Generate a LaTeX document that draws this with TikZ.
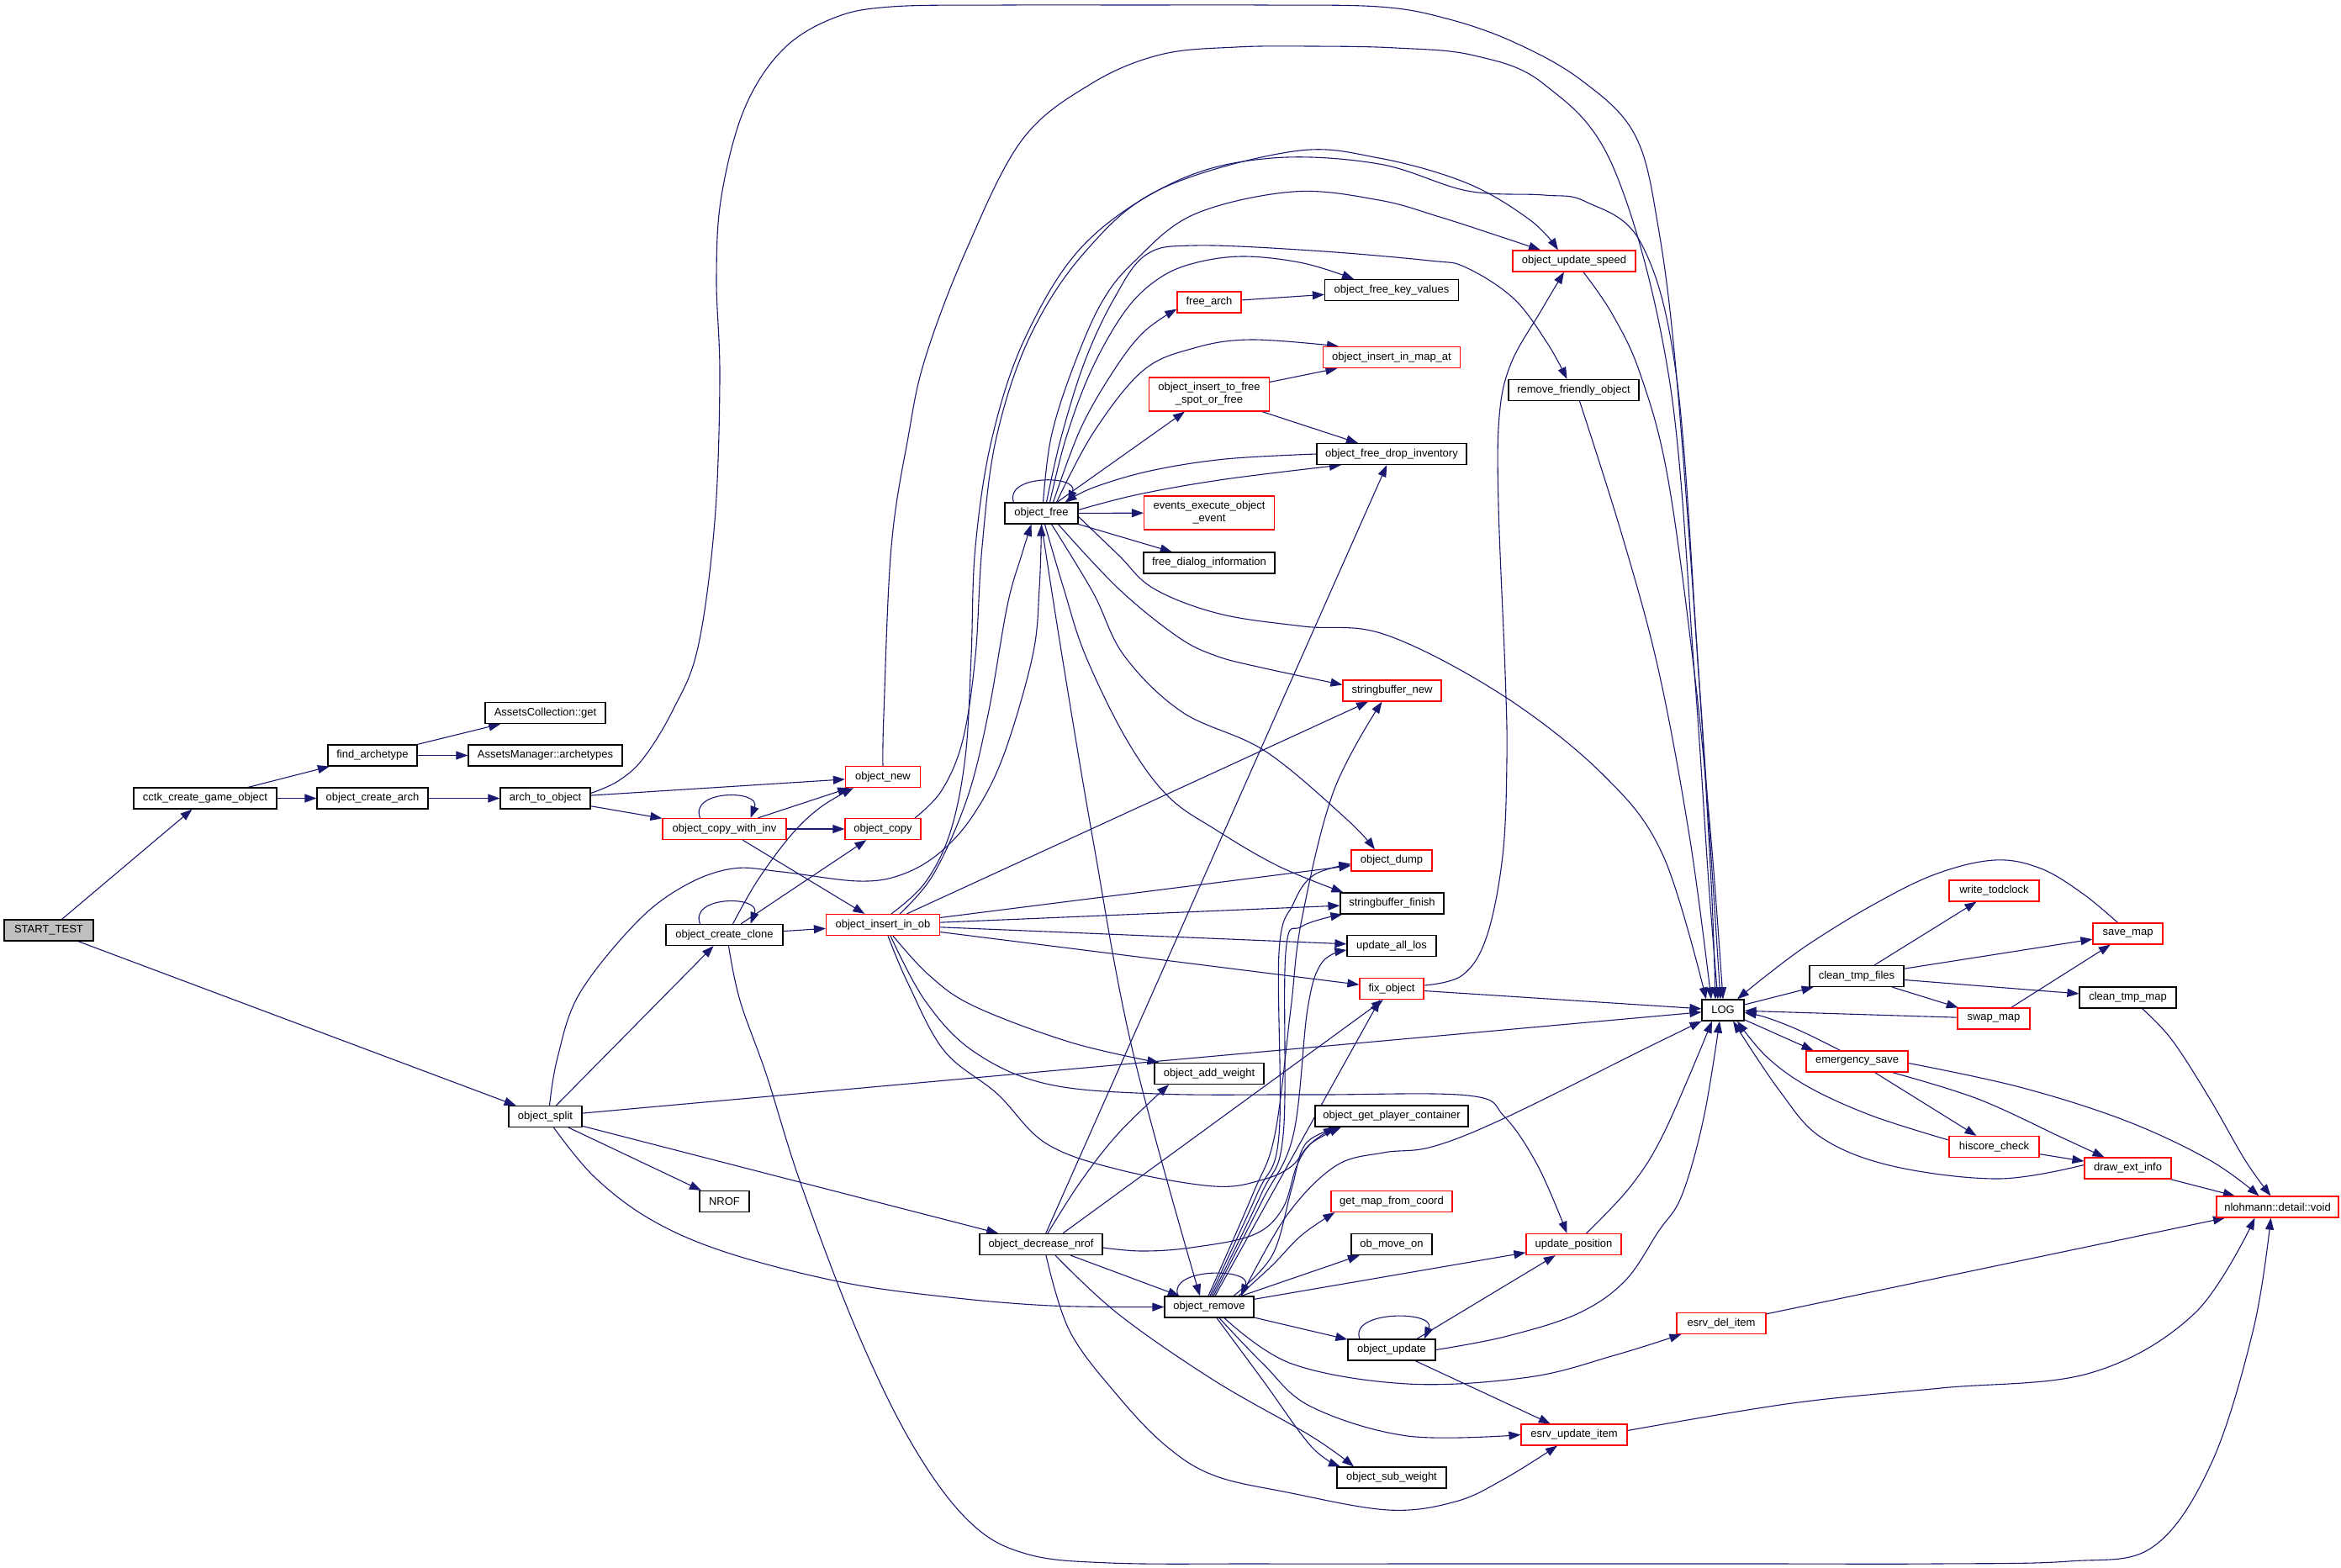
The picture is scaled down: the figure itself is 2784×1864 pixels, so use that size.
\documentclass[tikz,border=0pt]{standalone}
\usepackage{fontspec}
\setmainfont{Liberation Sans}
\usetikzlibrary{arrows.meta}
\definecolor{edgec}{RGB}{25,25,112}
\definecolor{nodered}{RGB}{255,0,0}
\definecolor{startfill}{RGB}{191,191,191}
\pgfdeclarelayer{back}
\pgfdeclarelayer{edges}
\pgfsetlayers{back,edges,main}
\begin{document}
\begin{tikzpicture}[x=1pt,y=-1pt,
  font=\fontsize{13}{15}\selectfont,
  box/.style={draw=black, line width=1.2pt, rectangle, inner sep=0pt, minimum height=25pt, align=center, fill=white},
  rbox/.style={box, draw=nodered},
  e/.style={draw=edgec, line width=1.1pt, -{Triangle[length=14pt,width=10pt]}},
  sm/.style={smooth, tension=0.6}]
\useasboundingbox (0,0) rectangle (2784,1864);
\begin{pgfonlayer}{back}
\fill[white] (0,0) rectangle (2784,1864);
\end{pgfonlayer}
% ---------------- nodes ----------------
\node[box, fill=startfill, minimum width=106pt] (START) at (58,1106.5) {START\_TEST};
\node[box, minimum width=170pt] (cctk) at (244,949.5) {cctk\_create\_game\_object};
\node[box, minimum width=106pt] (findarch) at (443,898.5) {find\_archetype};
\node[box, minimum width=143pt] (assetsget) at (648.5,848) {AssetsCollection::get};
\node[box, minimum width=183pt] (assetsarch) at (648.5,898.5) {AssetsManager::archetypes};
\node[box, minimum width=132pt] (createarch) at (443,949.5) {object\_create\_arch};
\node[box, minimum width=107pt] (arch2obj) at (648.5,949.5) {arch\_to\_object};
\node[rbox, minimum width=89pt] (objnew) at (1050,924) {object\_new};
\node[rbox, minimum width=147pt] (copywinv) at (861.5,986) {object\_copy\_with\_inv};
\node[rbox, minimum width=90pt] (objcopy) at (1050,986) {object\_copy};
\node[box, minimum width=139pt] (clone) at (861.5,1112) {object\_create\_clone};
\node[rbox, minimum width=135pt] (insertob) at (1050,1100) {object\_insert\_in\_ob};
\node[box, minimum width=87pt] (split) at (648.5,1328) {object\_split};
\node[box, minimum width=59pt] (NROF) at (861.5,1429) {NROF};
\node[box, minimum width=146pt] (decnrof) at (1238,1480) {object\_decrease\_nrof};
\node[box, minimum width=106pt] (remove) at (1438,1554.5) {object\_remove};
\node[box, minimum width=87pt] (objfree) at (1238.5,610.5) {object\_free};
\node[rbox, minimum width=76pt] (freearch) at (1438,359.5) {free\_arch};
\node[box, minimum width=159pt] (freekv) at (1655,345) {object\_free\_key\_values};
\node[rbox, minimum width=163pt] (inmapat) at (1655,425) {object\_insert\_in\_map\_at};
\node[rbox, minimum width=143pt, minimum height=40pt] (tofree) at (1438,469) {object\_insert\_to\_free\\\_spot\_or\_free};
\node[box, minimum width=178pt] (dropinv) at (1655,540) {object\_free\_drop\_inventory};
\node[rbox, minimum width=155pt, minimum height=40pt] (events) at (1438,610) {events\_execute\_object\\\_event};
\node[box, minimum width=156pt] (freedialog) at (1438,669.5) {free\_dialog\_information};
\node[rbox, minimum width=117pt] (sbnew) at (1655.5,821.5) {stringbuffer\_new};
\node[rbox, minimum width=96pt] (objdump) at (1655,1023.5) {object\_dump};
\node[box, minimum width=123pt] (sbfinish) at (1655.5,1074.5) {stringbuffer\_finish};
\node[box, minimum width=106pt] (updlos) at (1655,1125) {update\_all\_los};
\node[rbox, minimum width=76pt] (fixobj) at (1655,1176) {fix\_object};
\node[box, minimum width=130pt] (addweight) at (1438,1277) {object\_add\_weight};
\node[box, minimum width=182pt] (playercont) at (1655,1327.5) {object\_get\_player\_container};
\node[rbox, minimum width=144pt] (getmap) at (1655,1429) {get\_map\_from\_coord};
\node[box, minimum width=96pt] (movon) at (1655,1480) {ob\_move\_on};
\node[box, minimum width=104pt] (objupdate) at (1655,1605.5) {object\_update};
\node[box, minimum width=130pt] (subweight) at (1655,1757.5) {object\_sub\_weight};
\node[rbox, minimum width=126pt] (esrvupd) at (1872,1706.5) {esrv\_update\_item};
\node[rbox, minimum width=106pt] (esrvdel) at (2047,1574) {esrv\_del\_item};
\node[rbox, minimum width=113pt] (updpos) at (1871.5,1480) {update\_position};
\node[rbox, minimum width=146pt] (updspeed) at (1872,310.5) {object\_update\_speed};
\node[box, minimum width=155pt] (removefriendly) at (1871.5,464) {remove\_friendly\_object};
\node[box, minimum width=50pt] (LOG) at (2049,1201.5) {LOG};
\node[box, minimum width=112pt] (cleanfiles) at (2208,1161) {clean\_tmp\_files};
\node[rbox, minimum width=107pt] (todclock) at (2371.5,1059.5) {write\_todclock};
\node[rbox, minimum width=83pt] (savemap) at (2530.5,1110.5) {save\_map};
\node[rbox, minimum width=86pt] (swapmap) at (2371,1211.5) {swap\_map};
\node[box, minimum width=115pt] (cleanmap) at (2530.5,1186.5) {clean\_tmp\_map};
\node[rbox, minimum width=121pt] (emergency) at (2208.5,1262.5) {emergency\_save};
\node[rbox, minimum width=107pt] (hiscore) at (2371.5,1364) {hiscore\_check};
\node[rbox, minimum width=103pt] (drawext) at (2530.5,1389.5) {draw\_ext\_info};
\node[rbox, minimum width=145pt] (nlohmann) at (2708.5,1435.5) {nlohmann::detail::void};
% ---------------- edges ----------------
\begin{pgfonlayer}{edges}
% straight
\draw[e] (START) -- (cctk);
\draw[e] (START) -- (split);
\draw[e] (cctk) -- (findarch);
\draw[e] (cctk) -- (createarch);
\draw[e] (findarch) -- (assetsget);
\draw[e] (findarch) -- (assetsarch);
\draw[e] (createarch) -- (arch2obj);
\draw[e] (arch2obj) -- (objnew);
\draw[e] (arch2obj) -- (copywinv);
\draw[e] (copywinv) -- (objnew);
\draw[e] (copywinv) -- (objcopy);
\draw[e] (copywinv) -- (insertob);
\draw[e] (clone) -- (objcopy);
\draw[e] (clone) -- (insertob);
\draw[e] (split) -- (clone);
\draw[e] (split) -- (LOG);
\draw[e] (split) -- (NROF);
\draw[e] (split) -- (decnrof);
\draw[e] (insertob) -- (sbnew);
\draw[e] (insertob) -- (objdump);
\draw[e] (insertob) -- (sbfinish);
\draw[e] (insertob) -- (updlos);
\draw[e] (insertob) -- (fixobj);
\draw[e] (objfree) -- (tofree);
\draw[e] (objfree) -- (events);
\draw[e] (objfree) -- (freedialog);
\draw[e] (freearch) -- (freekv);
\draw[e] (tofree) -- (inmapat);
\draw[e] (tofree) -- (dropinv);
\draw[e] (decnrof) -- (remove);
\draw[e] (decnrof) -- (dropinv);
\draw[e] ([xshift=26pt]decnrof.north) -- ([xshift=-10pt]fixobj.south);
\draw[e] (remove) -- (movon);
\draw[e] (remove) -- (updpos);
\draw[e] (remove) -- (objupdate);
\draw[e] ([xshift=7pt]remove.north) -- ([xshift=-14pt]fixobj.south);
\draw[e] ([xshift=30pt]objupdate.north) -- (updpos);
\draw[e] (objupdate) -- (esrvupd);
\draw[e] (fixobj) -- (LOG);
\draw[e] (esrvdel) -- (nlohmann);
\draw[e] (LOG) -- (cleanfiles);
\draw[e] (LOG) -- ([xshift=-52pt]emergency.north);
\draw[e] (swapmap) -- (LOG);
\draw[e] (cleanfiles) -- (todclock);
\draw[e] (cleanfiles) -- (savemap);
\draw[e] (cleanfiles) -- (swapmap);
\draw[e] (cleanfiles) -- (cleanmap);
\draw[e] (swapmap) -- (savemap);
\draw[e] (emergency) -- (hiscore);
\draw[e] (hiscore) -- (drawext);
\draw[e] (drawext) -- (nlohmann);
% self loops
\draw[e] ([xshift=-29pt]copywinv.north) .. controls ([xshift=-42pt,yshift=34pt]copywinv.north) and ([xshift=44pt,yshift=34pt]copywinv.north) .. ([xshift=31pt]copywinv.north);
\draw[e] ([xshift=-29pt]clone.north) .. controls ([xshift=-42pt,yshift=34pt]clone.north) and ([xshift=44pt,yshift=34pt]clone.north) .. ([xshift=31pt]clone.north);
\draw[e] ([xshift=-33pt]objfree.north) .. controls ([xshift=-45pt,yshift=33pt]objfree.north) and ([xshift=45pt,yshift=33pt]objfree.north) .. ([xshift=32pt]objfree.north);
\draw[e] ([xshift=-37pt]remove.north) .. controls ([xshift=-50pt,yshift=34pt]remove.north) and ([xshift=52pt,yshift=34pt]remove.north) .. ([xshift=38pt]remove.north);
\draw[e] ([xshift=-38pt]objupdate.north) .. controls ([xshift=-51pt,yshift=34pt]objupdate.north) and ([xshift=53pt,yshift=34pt]objupdate.north) .. ([xshift=39pt]objupdate.north);
% curved
\draw[e] plot[sm] coordinates {([yshift=6pt]arch2obj.east) (735,929) (765,902) (800,845) (830,770) (850,620) (856,450) (852,330) (858,233) (885,130) (930,60) (990,22) (1060,8) (1200,6) (1350,6) (1500,6) (1640,8) (1720,22) (1800,50) (1880,95) (1944,160) (1972,270) (1994,450) (2020,800) (2035,1050) ([xshift=-9pt]LOG.north)};
\draw[e] plot[sm] coordinates {(objnew.north) (1051,850) (1060,650) (1080,520) (1100,427) (1148,300) (1215,167) (1297,100) (1380,65) (1470,56) (1560,55) (1660,57) (1753,66) (1836,100) (1919,200) (1985,450) (2015,800) (2032,1050) ([xshift=-6pt]LOG.north)};
\draw[e] plot[sm] coordinates {([xshift=10pt]insertob.north) (1100,1050) (1130,990) (1148,900) (1155,780) (1160,650) (1180,520) (1220,400) (1290,290) (1400,215) (1513,188) (1640,195) (1745,227) (1836,232) (1886,240) (1952,290) (1994,450) (2020,800) (2037,1050) ([xshift=-3pt]LOG.north)};
\draw[e] plot[sm] coordinates {([xshift=38pt]objcopy.north) (1120,940) (1145,880) (1160,780) (1168,650) (1185,520) (1225,400) (1290,300) (1380,225) (1538,180) (1640,188) (1745,218) (1820,262) ([xshift=-19pt]updspeed.north)};
\draw[e] plot[sm] coordinates {([xshift=20pt]insertob.north) (1110,1040) (1150,950) (1175,850) (1198,720) (1215,660) ([xshift=-12pt]objfree.south)};
\draw[e] plot[sm] coordinates {([xshift=5pt]split.north) (663,1258) (689,1182) (757,1097) (815,1053) (872,1033) (930,1037) (1021,1048) (1073,1040) (1119,1013) (1159,967) (1194,897) (1228,780) (1236,700) (objfree.south)};
\draw[e] plot[sm] coordinates {([xshift=10pt]split.south) (706,1399) (773,1450) (862,1489) (996,1524) (1120,1542) (1250,1553) (remove.west)};
\draw[e] plot[sm] coordinates {([xshift=10pt]clone.north) (901,1047) (941,993) (976,960) ([xshift=-35pt]objnew.south)};
\draw[e] plot[sm] coordinates {([xshift=5pt]clone.south) (880,1190) (912,1280) (952,1407) (1019,1583) (1086,1720) (1153,1810) (1220,1848) (1320,1859) (1500,1860) (1700,1860) (1900,1860) (2100,1860) (2300,1860) (2460,1857) (2560,1840) (2630,1740) (2680,1580) ([xshift=-8pt]nlohmann.south)};
\draw[e] plot[sm] coordinates {([xshift=12pt]insertob.south) (1105,1160) (1159,1197) (1274,1240) ([xshift=6pt]addweight.north west)};
\draw[e] plot[sm] coordinates {([xshift=6pt]insertob.south) (1080,1170) (1123,1250) (1186,1301) (1244,1360) (1330,1391) (1444,1411) (1502,1403) (1536,1387) (1559,1360) ([xshift=-60pt]playercont.south)};
\draw[e] plot[sm] coordinates {([xshift=9pt]insertob.south) (1100,1190) (1157,1250) (1244,1289) (1376,1301) (1560,1302) (1746,1303) (1789,1328) (1829,1387) ([xshift=-8pt]updpos.north)};
\draw[e] plot[sm] coordinates {([xshift=2pt]objfree.north) (1250,520) (1275,440) (1310,360) (1350,310) (1420,255) (1538,228) (1640,238) (1712,258) (1780,280) ([xshift=-40pt]updspeed.north)};
\draw[e] plot[sm] coordinates {([xshift=6pt]objfree.north) (1262,520) (1290,430) (1325,355) (1363,303) (1421,292) (1560,298) (1700,310) (1743,318) (1800,355) (1840,408) ([xshift=-8pt]removefriendly.north)};
\draw[e] plot[sm] coordinates {([xshift=10pt]objfree.north) (1268,520) (1298,440) (1338,370) (1377,332) (1420,313) (1479,305) (1550,313) ([xshift=-45pt]freekv.north)};
\draw[e] plot[sm] coordinates {([xshift=14pt]objfree.north) (1285,510) (1325,440) (1360,395) ([yshift=5pt]freearch.south west)};
\draw[e] plot[sm] coordinates {([xshift=18pt]objfree.north) (1300,515) (1359,441) (1420,414) (1488,404) ([xshift=-63pt]inmapat.north)};
\draw[e] plot[sm] coordinates {([yshift=4pt]objfree.east) (1354,588) (1457,570) ([xshift=-60pt]dropinv.south)};
\draw[e] plot[sm] coordinates {(dropinv.west) (1457,546) (1368,560) (1300,580) ([xshift=28pt]objfree.north)};
\draw[e] plot[sm] coordinates {([xshift=20pt]objfree.south) (1330,700) (1400,757) (1446,780) (1500,794) ([yshift=7pt]sbnew.west)};
\draw[e] plot[sm] coordinates {([xshift=12pt]objfree.south) (1300,705) (1337,780) (1406,847) (1504,893) (1600,973) ([xshift=-20pt]objdump.north)};
\draw[e] plot[sm] coordinates {([xshift=4pt]objfree.south) (1265,700) (1291,780) (1340,880) (1389,947) (1446,987) (1520,1030) ([xshift=4pt]sbfinish.north west)};
\draw[e] plot[sm] coordinates {([yshift=-4pt]objfree.east) (1330,660) (1372,700) (1450,730) (1550,745) (1648,755) (1787,827) (1907,922) (1978,1018) ([xshift=-20pt]LOG.north)};
\draw[e] plot[sm] coordinates {(objfree.south) (1263,780) (1300,1000) (1347,1250) ([xshift=-11pt]remove.north)};
\draw[e] plot[sm] coordinates {([yshift=4pt]fixobj.east) (1739,1160) (1768,1114) (1787,1018) (1792,903) (1790,800) (1782,601) (1783,495) (1797,432) (1833,369) ([xshift=-12pt]updspeed.south)};
\draw[e] plot[sm] coordinates {([xshift=11pt]updspeed.south) (1917,373) (1950,443) (1983,566) (2015,800) (2035,1000) (LOG.north)};
\draw[e] plot[sm] coordinates {([xshift=7pt]removefriendly.south) (1930,640) (1973,800) (2010,1000) ([xshift=-14pt]LOG.north)};
\draw[e] plot[sm] coordinates {([xshift=17pt]decnrof.south) (1330,1563) (1444,1642) (1559,1708) ([xshift=-45pt]subweight.north)};
\draw[e] plot[sm] coordinates {([xshift=6pt]decnrof.south) (1272,1583) (1330,1661) (1387,1720) (1444,1755) (1531,1775) (1651,1796) (1731,1786) (1789,1759) ([xshift=-20pt]esrvupd.south)};
\draw[e] plot[sm] coordinates {([yshift=-4pt]decnrof.east) (1358,1488) (1416,1484) (1490,1469) (1525,1438) (1542,1387) (1559,1360) ([xshift=-67pt]playercont.south)};
\draw[e] plot[sm] coordinates {([xshift=8pt]decnrof.north) (1284,1407) (1330,1348) ([xshift=-48pt]addweight.south)};
\draw[e] plot[sm] coordinates {([xshift=12pt]remove.south) (1502,1622) (1559,1673) (1674,1708) (esrvupd.west)};
\draw[e] plot[sm] coordinates {([xshift=18pt]remove.south) (1536,1622) (1674,1646) (1818,1638) (1920,1612) ([xshift=6pt]esrvdel.south west)};
\draw[e] plot[sm] coordinates {([xshift=9pt]remove.south) (1502,1642) (1559,1720) ([xshift=-61pt]subweight.north)};
\draw[e] plot[sm] coordinates {([xshift=35pt]remove.north) (1513,1505) (1548,1469) ([xshift=5pt]getmap.south west)};
\draw[e] plot[sm] coordinates {([xshift=29pt]remove.north) (1513,1493) (1536,1414) (1553,1360) ([xshift=-61pt]playercont.south)};
\draw[e] plot[sm] coordinates {([xshift=38pt]remove.north) (1530,1446) (1588,1387) (1645,1371) (1703,1364) (1789,1330) (1961,1245) (LOG.south west)};
\draw[e] plot[sm] coordinates {([xshift=5pt]remove.north) (1500,1430) (1538,1350) (1555,1200) (1572,1145) ([yshift=-5pt]updlos.west)};
\draw[e] plot[sm] coordinates {([xshift=3pt]remove.north) (1500,1420) (1526,1350) (1529,1133) (1548,1102) ([xshift=3pt]sbfinish.south west)};
\draw[e] plot[sm] coordinates {([xshift=1pt]remove.north) (1495,1420) (1521,1350) (1521,1133) (1538,1075) (1562,1041) ([yshift=-4pt]objdump.west)};
\draw[e] plot[sm] coordinates {([xshift=-1pt]remove.north) (1490,1420) (1516,1350) (1535,1200) (1548,1094) (1586,941) ([xshift=-12pt]sbnew.south)};
\draw[e] plot[sm] coordinates {(objupdate.east) (1789,1590) (1875,1563) (1932,1524) (1972,1465) (2000,1422) (2026,1330) ([xshift=-4pt]LOG.south)};
\draw[e] plot[sm] coordinates {([xshift=15pt]updpos.north) (1940,1410) (1980,1345) ([xshift=-13pt]LOG.south)};
\draw[e] plot[sm] coordinates {([yshift=5pt]esrvupd.east) (2131,1669) (2308,1651) (2486,1633) (2610,1562) ([xshift=-27pt]nlohmann.south)};
\draw[e] plot[sm] coordinates {([xshift=17pt]cleanmap.south) (2583,1237) (2628,1307) (2670,1380) ([xshift=-8pt]nlohmann.north)};
\draw[e] plot[sm] coordinates {([yshift=-2pt]emergency.east) (2402,1293) (2528,1333) (2628,1380) ([xshift=-22pt]nlohmann.north)};
\draw[e] plot[sm] coordinates {([xshift=42pt]emergency.south) (2352,1307) (2452,1353) ([xshift=-28pt]drawext.north)};
\draw[e] plot[sm] coordinates {([xshift=-20pt]emergency.north) (2141,1226) (2100,1210) ([yshift=-3pt]LOG.east)};
\draw[e] plot[sm] coordinates {([xshift=-12pt]savemap.north) (2477,1063) (2427,1033) (2372,1023) (2301,1040) (2226,1077) (2151,1123) (2101,1160) ([xshift=17pt]LOG.north)};
\draw[e] plot[sm] coordinates {([yshift=8pt]hiscore.west) (2226,1327) (2151,1293) (2101,1257) ([xshift=17pt]LOG.south)};
\draw[e] plot[sm] coordinates {([yshift=4pt]drawext.west) (2377,1402) (2251,1387) (2166,1353) (2116,1297) ([xshift=12pt]LOG.south)};
\end{pgfonlayer}
\end{tikzpicture}
\end{document}
